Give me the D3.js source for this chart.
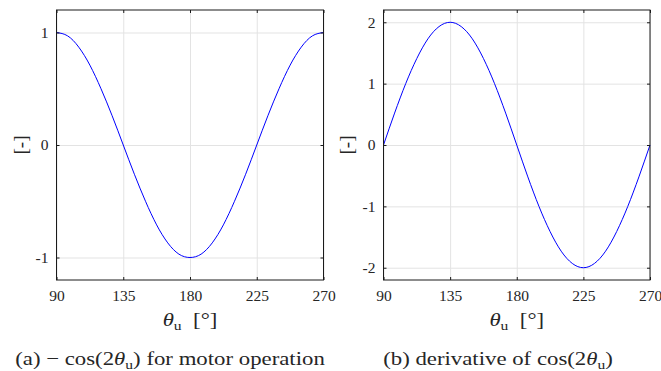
<!DOCTYPE html>
<html lang="en">
<head>
    <meta charset="UTF-8">
    <title>cos(2θu) panels</title>
    <script src="https://d3js.org/d3.v7.min.js"></script>
    <style>
        body { margin: 0; background: #fff; }
        svg { display: block; }
        text { font-family: "Liberation Serif", "Times New Roman", serif; fill: #262626; }
    </style>
</head>
<body>
    <div id="chart"></div>
    <script>
        const width = 661;
        const height = 371;

        // values, every 7.5 degrees
        const theta = d3.range(25).map(i => 90 + 7.5 * i);
        const negCos = [1, 0.97, 0.87, 0.71, 0.5, 0.26, 0, -0.26, -0.5, -0.71, -0.87, -0.97, -1,
            -0.97, -0.87, -0.71, -0.5, -0.26, 0, 0.26, 0.5, 0.71, 0.87, 0.97, 1];
        const derivCos = [0, 0.52, 1, 1.41, 1.73, 1.93, 2, 1.93, 1.73, 1.41, 1, 0.52, 0,
            -0.52, -1, -1.41, -1.73, -1.93, -2, -1.93, -1.73, -1.41, -1, -0.52, 0];
        const xTicks = [90, 135, 180, 225, 270];
        const yTicksA = [-1, 0, 1];
        const yTicksB = [-2, -1, 0, 1, 2];

        const gridColor = "#e3e3e3";
        const axisColor = "#1a1a1a";
        const stretch = 1.2; // computer modern runs wider than Times

        const svg = d3.select("#chart")
            .append("svg")
            .attr("width", width)
            .attr("height", height);

        // subscripted theta text, stretched sideways
        function thetaText(parent, cx, cy, size, pre, post) {
            const t = parent.append("g")
                .attr("transform", `translate(${cx},${cy}) scale(${stretch},1)`)
                .append("text")
                .attr("text-anchor", "middle")
                .style("font-size", size + "px");
            t.append("tspan").text(pre);
            t.append("tspan").attr("font-style", "italic").text("θ");
            t.append("tspan").attr("font-size", Math.round(size * 0.7) + "px").attr("dy", 4).text("u");
            t.append("tspan").attr("dy", -4).text(post);
        }

        // draw one panel
        function panel(opt) {
            const x = d3.scaleLinear().domain([90, 270]).range([opt.left, opt.right]);
            const y = d3.scaleLinear().domain(opt.yDomain).range([280, 10]);
            const g = svg.append("g");

            // grid
            g.append("g")
                .attr("transform", `translate(0,280)`)
                .call(d3.axisBottom(x).tickValues(xTicks).tickSize(-270).tickFormat(""))
                .call(s => s.select(".domain").remove())
                .selectAll("line").attr("stroke", gridColor);
            g.append("g")
                .attr("transform", `translate(${opt.left},0)`)
                .call(d3.axisLeft(y).tickValues(opt.yTicks).tickSize(-(opt.right - opt.left)).tickFormat(""))
                .call(s => s.select(".domain").remove())
                .selectAll("line").attr("stroke", gridColor);

            // curve
            const line = d3.line()
                .x((d, i) => x(theta[i]))
                .y(d => y(d))
                .curve(d3.curveNatural);
            g.append("path")
                .datum(opt.values)
                .attr("fill", "none")
                .attr("stroke", "#0000ff")
                .attr("stroke-width", 1)
                .attr("d", line);

            // axes with inward ticks
            const axes = g.append("g");
            axes.append("g")
                .attr("class", "xa")
                .attr("transform", `translate(0,280)`)
                .call(d3.axisBottom(x).tickValues(xTicks).tickFormat(d => d)
                    .tickSizeInner(-3).tickSizeOuter(0).tickPadding(10));
            axes.append("g")
                .attr("transform", `translate(0,10)`)
                .call(d3.axisTop(x).tickValues(xTicks).tickSizeInner(-3).tickSizeOuter(0).tickFormat(""));
            axes.append("g")
                .attr("class", "ya")
                .attr("transform", `translate(${opt.left},0)`)
                .call(d3.axisLeft(y).tickValues(opt.yTicks).tickFormat(d => d)
                    .tickSizeInner(-3).tickSizeOuter(0).tickPadding(8));
            axes.append("g")
                .attr("transform", `translate(${opt.right},0)`)
                .call(d3.axisRight(y).tickValues(opt.yTicks).tickSizeInner(-3).tickSizeOuter(0).tickFormat(""));

            axes.selectAll("g").attr("font-family", null);
            axes.selectAll(".domain").remove();
            axes.selectAll(".tick line").attr("stroke", axisColor);
            axes.selectAll(".tick text")
                .attr("fill", "#333")
                .style("font-size", "15.5px");

            // box
            g.append("rect")
                .attr("x", opt.left).attr("y", 10)
                .attr("width", opt.right - opt.left).attr("height", 270)
                .attr("fill", "none").attr("stroke", axisColor);

            // x label
            thetaText(g, (opt.left + opt.right) / 2, 326, 19, "", "\u2002[°]");

            // y label
            g.append("text")
                .attr("transform", `translate(${opt.ylabX},145) rotate(-90)`)
                .attr("text-anchor", "middle")
                .attr("dy", "0.32em")
                .style("font-size", "19px")
                .text("[-]");

            // caption
            thetaText(g, opt.capX, 365, 19, opt.capPre, opt.capPost);
        }

        panel({
            left: 56.5, right: 323.5, yDomain: [-1.2, 1.2], yTicks: yTicksA, values: negCos,
            ylabX: 21, capX: 170, capPre: "(a) \u2212 cos(2", capPost: ") for motor operation"
        });
        panel({
            left: 383.5, right: 650, yDomain: [-2.2, 2.2], yTicks: yTicksB, values: derivCos,
            ylabX: 347, capX: 498, capPre: "(b) derivative of cos(2", capPost: ")"
        });
    </script>
</body>
</html>
